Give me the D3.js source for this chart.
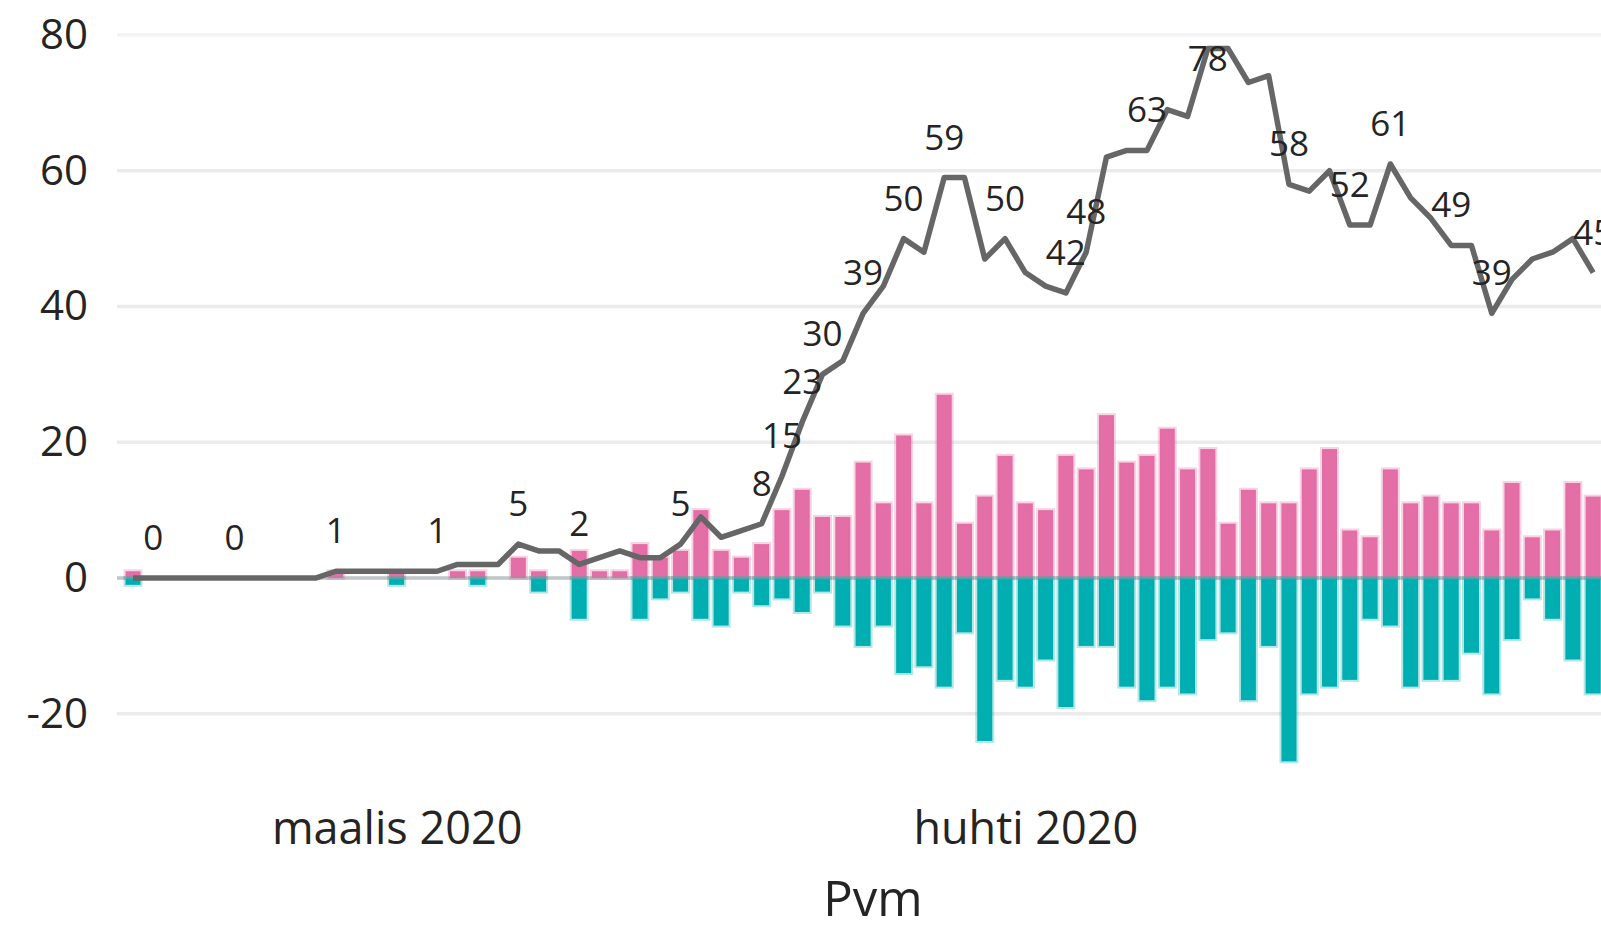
<!DOCTYPE html>
<html lang="fi">
<head>
<meta charset="utf-8">
<title>Pvm</title>
<script src="https://cdn.jsdelivr.net/npm/d3@7/dist/d3.min.js"></script>
<style>
    html, body { margin: 0; padding: 0; background: #fff; overflow: hidden; }
    svg { display: block; font-family: "Segoe UI", "Open Sans", sans-serif; }
</style>
</head>
<body>
<div id="chart"></div>
<script>
// Days shown: 17.2.2020 - 29.4.2020
const firstDay = new Date(2020, 1, 17);
const lastDay = new Date(2020, 3, 29);

// Daily arrivals (pink, up)
const arrivals = [
    1, 0, 0, 0, 0, 0, 0, 0, 0, 0,
    1, 0, 0, 1, 0, 0, 1, 1, 0, 3,
    1, 0, 4, 1, 1, 5, 3, 4, 10, 4,
    3, 5, 10, 13, 9, 9, 17, 11, 21, 11,
    27, 8, 12, 18, 11, 10, 18, 16, 24, 17,
    18, 22, 16, 19, 8, 13, 11, 11, 16, 19,
    7, 6, 16, 11, 12, 11, 11, 7, 14, 6,
    7, 14, 12
];

// Daily departures (teal, down)
const departures = [
    -1, 0, 0, 0, 0, 0, 0, 0, 0, 0,
    0, 0, 0, -1, 0, 0, 0, -1, 0, 0,
    -2, 0, -6, 0, 0, -6, -3, -2, -6, -7,
    -2, -4, -3, -5, -2, -7, -10, -7, -14, -13,
    -16, -8, -24, -15, -16, -12, -19, -10, -10, -16,
    -18, -16, -17, -9, -8, -18, -10, -27, -17, -16,
    -15, -6, -7, -16, -15, -15, -11, -17, -9, -3,
    -6, -12, -17
];

// Patients on each day (grey line)
const current = [
    0, 0, 0, 0, 0, 0, 0, 0, 0, 0,
    1, 1, 1, 1, 1, 1, 2, 2, 2, 5,
    4, 4, 2, 3, 4, 3, 3, 5, 9, 6,
    7, 8, 15, 23, 30, 32, 39, 43, 50, 48,
    59, 59, 47, 50, 45, 43, 42, 48, 62, 63,
    63, 69, 68, 78, 78, 73, 74, 58, 57, 60,
    52, 52, 61, 56, 53, 49, 49, 39, 44, 47,
    48, 50, 45
];

// Days that carry a data label
const labelDays = [1, 5, 10, 15, 19, 22, 27, 31, 32, 33, 34, 36, 38, 40, 43, 46, 47, 50, 53, 57, 60, 62, 65, 67, 72];

const yTicks = [-20, 0, 20, 40, 60, 80];
const monthTicks = [new Date(2020, 2, 1), new Date(2020, 3, 1)];

const fiLocale = d3.timeFormatLocale({
    dateTime: '%A, %-d. %Bta %Y klo %X',
    date: '%-d.%-m.%Y',
    time: '%H:%M:%S',
    periods: ['a.m.', 'p.m.'],
    days: ['sunnuntai', 'maanantai', 'tiistai', 'keskiviikko', 'torstai', 'perjantai', 'lauantai'],
    shortDays: ['Su', 'Ma', 'Ti', 'Ke', 'To', 'Pe', 'La'],
    months: ['tammikuu', 'helmikuu', 'maaliskuu', 'huhtikuu', 'toukokuu', 'kesäkuu', 'heinäkuu', 'elokuu', 'syyskuu', 'lokakuu', 'marraskuu', 'joulukuu'],
    shortMonths: ['tammi', 'helmi', 'maalis', 'huhti', 'touko', 'kesä', 'heinä', 'elo', 'syys', 'loka', 'marras', 'joulu']
});

/**
 * Draw the combo chart
 * @param {HTMLElement} container - Container element
 */
function renderChart(container) {
    const width = 1601;
    const height = 925;

    // plot area (runs past the right edge of the window)
    const plotLeft = 117;
    const plotRight = 1629;
    const firstX = 133;
    const dayStep = 20.28;
    const barWidth = 15;

    const days = d3.timeDay.range(firstDay, d3.timeDay.offset(lastDay, 1));

    const svg = d3.select(container)
        .append('svg')
        .attr('width', width)
        .attr('height', height);

    const x = d3.scaleTime()
        .domain([firstDay, lastDay])
        .range([firstX, firstX + dayStep * (days.length - 1)]);

    const y = d3.scaleLinear()
        .domain([-20, 80])
        .range([713.8, 35]);

    // Gridlines
    svg.append('g')
        .selectAll('line')
        .data(yTicks)
        .enter()
        .append('line')
        .attr('x1', plotLeft)
        .attr('x2', plotRight)
        .attr('y1', d => y(d))
        .attr('y2', d => y(d))
        .attr('stroke', d => d === 80 ? '#f2f2f2' : '#ebebeb')
        .attr('stroke-width', 3.5);

    // Y axis labels (plain hyphen for minus, as in Power BI)
    const yAxis = svg.append('g')
        .attr('transform', 'translate(88,0)')
        .call(d3.axisLeft(y)
            .tickValues(yTicks)
            .tickFormat(d => String(d))
            .tickSize(0)
            .tickPadding(0));
    yAxis.select('.domain').remove();
    yAxis.selectAll('text')
        .attr('fill', '#252423')
        .style('font-size', '42px')
        .style('font-family', '"Segoe UI", "Open Sans", sans-serif');

    // Bars up
    svg.append('g')
        .selectAll('rect')
        .data(days)
        .enter()
        .append('rect')
        .attr('x', d => x(d) - barWidth / 2)
        .attr('y', (d, i) => y(arrivals[i]))
        .attr('width', barWidth)
        .attr('height', (d, i) => y(0) - y(arrivals[i]))
        .attr('fill', '#e46ea6')
        .attr('stroke', '#e46ea6')
        .attr('stroke-opacity', 0.3)
        .attr('stroke-width', 4);

    // Bars down
    svg.append('g')
        .selectAll('rect')
        .data(days)
        .enter()
        .append('rect')
        .attr('x', d => x(d) - barWidth / 2)
        .attr('y', y(0))
        .attr('width', barWidth)
        .attr('height', (d, i) => y(departures[i]) - y(0))
        .attr('fill', '#01aeb1')
        .attr('stroke', '#01aeb1')
        .attr('stroke-opacity', 0.3)
        .attr('stroke-width', 4);

    // zero line sits over the bars
    svg.append('line')
        .attr('x1', plotLeft)
        .attr('x2', plotRight)
        .attr('y1', y(0))
        .attr('y2', y(0))
        .attr('stroke', '#8a9a9c')
        .attr('stroke-opacity', 0.45)
        .attr('stroke-width', 3.5);

    // Line
    const line = d3.line()
        .x(d => x(d))
        .y((d, i) => y(current[i]));

    svg.append('path')
        .datum(days)
        .attr('d', line)
        .attr('fill', 'none')
        .attr('stroke', '#666666')
        .attr('stroke-width', 5.5)
        .attr('stroke-linejoin', 'round');

    // Data labels
    svg.append('g')
        .selectAll('text')
        .data(labelDays)
        .enter()
        .append('text')
        .attr('x', i => x(days[i]))
        .attr('y', i => {
            const py = y(current[i]);
            // no room above the point: put the label under it
            return py - 53 < 0 ? py + 22 : py - 28;
        })
        .attr('text-anchor', 'middle')
        .style('font-size', '35px')
        .style('fill', '#252423')
        .text(i => current[i]);

    // X axis
    const xAxis = svg.append('g')
        .attr('transform', 'translate(0,812)')
        .call(d3.axisBottom(x)
            .tickValues(monthTicks)
            .tickFormat(fiLocale.format('%b %Y'))
            .tickSize(0)
            .tickPadding(0));
    xAxis.select('.domain').remove();
    xAxis.selectAll('text')
        .attr('fill', '#252423')
        .attr('dy', '0.71em')
        .style('font-size', '45px')
        .style('font-family', '"Segoe UI", "Open Sans", sans-serif');

    // Axis title
    svg.append('text')
        .attr('x', (plotLeft + plotRight) / 2)
        .attr('y', 916)
        .attr('text-anchor', 'middle')
        .style('font-size', '49px')
        .style('fill', '#252423')
        .text('Pvm');
}

renderChart(document.getElementById('chart'));
</script>
</body>
</html>
